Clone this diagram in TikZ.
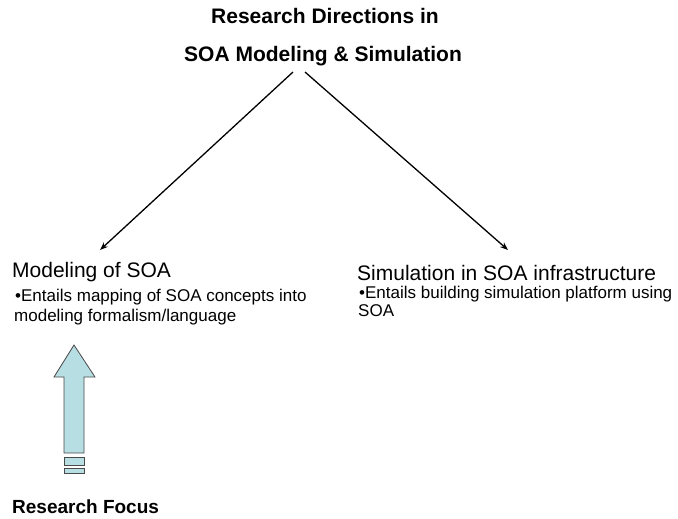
\documentclass[tikz,border=0pt]{standalone}
\usepackage{fontspec}
\setmainfont{Liberation Sans}
\usetikzlibrary{arrows.meta}
\definecolor{arrowfill}{HTML}{B7DEE2}
\definecolor{arrowline}{HTML}{4A4A4A}
\tikzset{
  titletext/.style={anchor=base west,inner sep=0pt,font=\fontsize{21}{25}\selectfont\bfseries},
  headtext/.style={anchor=base west,inner sep=0pt,font=\fontsize{21}{25}\selectfont},
  bullettext/.style={anchor=base west,inner sep=0pt,font=\fontsize{17}{20}\selectfont},
  linkarrow/.style={line width=1.3pt,-{Stealth[length=8pt,width=6pt]}},
  blockarrow/.style={fill=arrowfill,draw=arrowline,line width=0.8pt},
}
\begin{document}
\begin{tikzpicture}[x=1pt,y=-1pt]
\useasboundingbox (0,0) rectangle (678,519);
\node[titletext] (t1) at (211,24) {Research Directions in};
\node[titletext] (t2) at (184,62) {SOA Modeling \& Simulation};
\node[headtext] (h1) at (12,277) {Modeling of SOA};
\node[bullettext] (b1a) at (15,301) {•Entails mapping of SOA concepts into};
\node[bullettext] (b1b) at (14,321) {modeling formalism/language};
\node[headtext] (h2) at (357,280) {Simulation in SOA infrastructure};
\node[bullettext] (b2a) at (359,298) {•Entails building simulation platform using};
\node[bullettext] (b2b) at (358,316) {SOA};
\node[titletext,font=\fontsize{19}{23}\selectfont\bfseries] (rf) at (12,513) {Research Focus};
\coordinate (s1) at (293,72);
\coordinate (s2) at (305,72);
\coordinate (e1) at (100,250);
\coordinate (e2) at (508,250);
\draw[linkarrow] (s1) -- (e1);
\draw[linkarrow] (s2) -- (e2);
% block arrow
\draw[blockarrow] (74,345) -- (95,377) -- (84,377) -- (84,453) -- (64,453) -- (64,377) -- (54,377) -- cycle;
\draw[blockarrow] (64,457) rectangle (84,465);
\draw[blockarrow] (64,468) rectangle (84,473);
\end{tikzpicture}
\end{document}
